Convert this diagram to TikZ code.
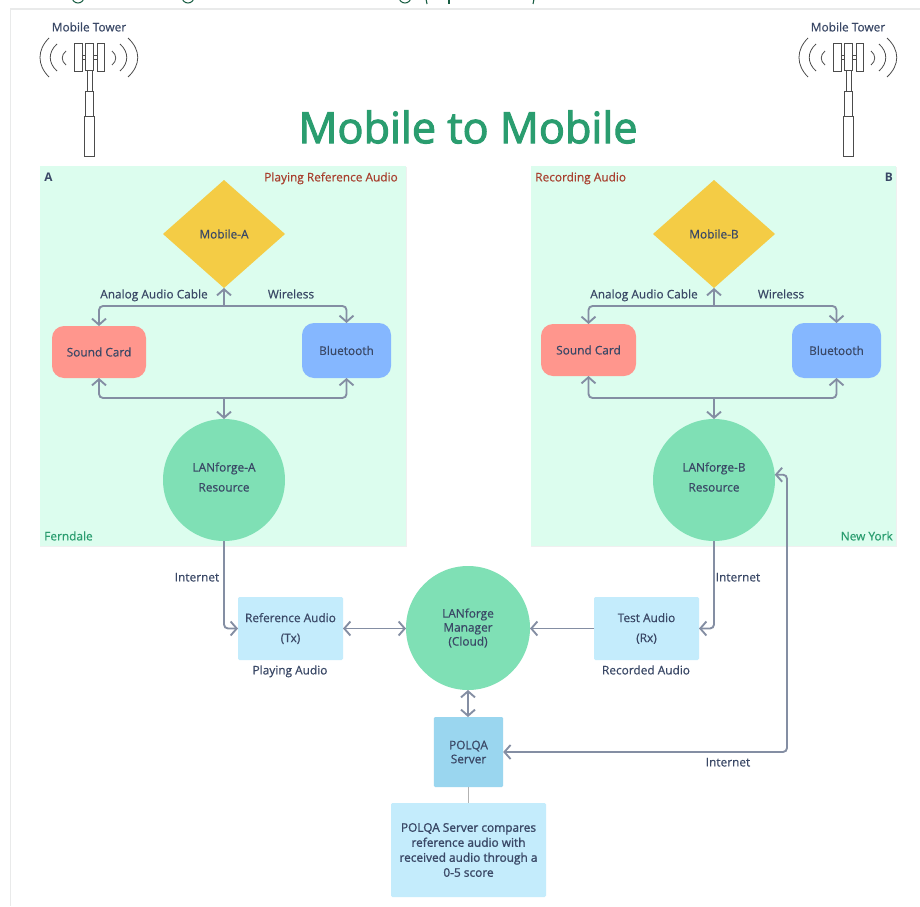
\documentclass[tikz,border=0pt]{standalone}
\usepackage{fontspec}
\setmainfont{Open Sans}
\newfontfamily\medfont{Open Sans}[FakeBold=0.6]
\newfontfamily\semifont{Open Sans}[FakeBold=1.3]
\newfontfamily\titlefont{Open Sans}[FakeBold=2.4]
\usetikzlibrary{arrows.meta,shapes.geometric}
\definecolor{ink}{HTML}{3A4866}
\definecolor{wire}{HTML}{848EA3}
\definecolor{panel}{HTML}{DCFDEE}
\definecolor{gold}{HTML}{F4CC45}
\definecolor{salmon}{HTML}{FF968D}
\definecolor{sky}{HTML}{85B7FF}
\definecolor{mint}{HTML}{7FE0B5}
\definecolor{pale}{HTML}{C4ECFC}
\definecolor{steel}{HTML}{9AD6EF}
\definecolor{leaf}{HTML}{2A9D6F}
\definecolor{brick}{HTML}{A8402F}
\definecolor{frame}{HTML}{E9EAEA}
\newcommand{\towerat}[1]{%
\begin{scope}[xshift=#1*0.75pt,draw=black!70,line width=0.6pt]
\draw[fill=white] (74,43) rectangle (82,71);
\draw[fill=white] (97,43) rectangle (104,71);
\draw (82,55) rectangle (85,59);
\draw (93,55) rectangle (97,59);
\draw[fill=white] (85,43) rectangle (93,70);
\draw (87,70) rectangle (92,91);
\draw (85,91) rectangle (93,116);
\draw (84,116) rectangle (94,156);
\draw (49,38) .. controls (37,50) and (37,65) .. (49,77);
\draw (57,44) .. controls (48,52) and (48,63) .. (57,71);
\draw (66,51) .. controls (61,55) and (61,61) .. (66,65);
\draw (128,38) .. controls (141,50) and (141,65) .. (128,77);
\draw (120,44) .. controls (129,52) and (129,63) .. (120,71);
\draw (112,51) .. controls (117,55) and (117,61) .. (112,65);
\end{scope}}
\tikzset{
 boxtxt/.style={font=\fontsize{8.9pt}{10.5pt}\selectfont\medfont,text=ink,inner sep=0pt,align=center},
 lbl/.style={boxtxt,text height=6.6pt,text depth=0pt},
 zone/.style={fill=panel,draw=none},
 dia/.style={diamond,fill=gold,aspect=1.13,minimum width=91.5pt,minimum height=81pt,inner sep=0pt,outer sep=0pt,boxtxt},
 round/.style={rounded corners=9pt,outer sep=0pt,boxtxt},
 disc/.style={circle,fill=mint,inner sep=0pt,outer sep=0pt,boxtxt},
 sq/.style={rounded corners=1pt,outer sep=0pt,boxtxt},
 conn/.style={draw=wire,line width=1.4pt,rounded corners=3pt},
 up/.style={conn,-{Straight Barb[length=4.6pt,width=10.5pt]}},
 both/.style={conn,{Straight Barb[length=4.6pt,width=10.5pt]}-{Straight Barb[length=4.6pt,width=10.5pt]}},
 frag/.style={draw=leaf!60!black,line width=0.8pt},
}
\begin{document}
\begin{tikzpicture}[x=0.75pt,y=-0.75pt]
\useasboundingbox (0,0) rectangle (920,906);
\fill[white] (0,0) rectangle (920,906);
% page frame and remnants of the cropped heading
\draw[frame,line width=0.9pt] (10.5,906) -- (10.5,9) -- (920,9);
\begin{scope}
\clip (0,0) rectangle (920,5);
\draw[frag] (72,-3) arc[start angle=180,end angle=0,x radius=6,y radius=6];
\draw[frag] (182,-3) arc[start angle=180,end angle=0,x radius=6,y radius=6];
\draw[frag] (399,-3) arc[start angle=180,end angle=0,x radius=6,y radius=6];
\draw[frag] (425,-6) -- (427,4);
\draw[frag] (449,-6) -- (449,4);
\draw[frag] (535,-6) -- (533,4);
\end{scope}
% panels
\fill[black!6] (40,167) rectangle (406.5,547);
\fill[black!6] (531,167) rectangle (896.5,547);
\path[zone] (40,166) rectangle (406,546);
\path[zone] (531,166) rectangle (896,546);
% title
\node[inner sep=0pt,text=leaf,font=\fontsize{32.4pt}{40pt}\selectfont\titlefont] (title) at (468,127) {Mobile to Mobile};
% towers
\towerat{0}
\towerat{759}
\node[lbl] (twA) at (89,27) {Mobile Tower};
\node[lbl] (twB) at (848,27) {Mobile Tower};
% panel captions
\node[lbl,font=\fontsize{8.9pt}{10pt}\selectfont\bfseries,anchor=west] (capA) at (44,177) {A};
\node[lbl,text=brick,anchor=east] (playA) at (398,177) {Playing Reference Audio};
\node[lbl,text=leaf,anchor=west] (ferndale) at (44,536) {Ferndale};
\node[lbl,font=\fontsize{8.9pt}{10pt}\selectfont\bfseries,anchor=east] (capB) at (893,177) {B};
\node[lbl,text=brick,anchor=west] (recB) at (535,177) {Recording Audio};
\node[lbl,text=leaf,anchor=east] (newyork) at (893,536) {New York};
% side A
\node[dia] (mobA) at (224,234) {Mobile-A};
\node[round,fill=salmon,minimum width=70.5pt,minimum height=39pt] (sndA) at (99,352) {Sound Card};
\node[round,fill=sky,minimum width=66.75pt,minimum height=41.25pt] (bluA) at (346.5,350.5) {Bluetooth};
\node[disc,minimum size=91.5pt] (lanA) at (224,480) {LANforge-A\\[4.5pt]Resource\rule[-4.5pt]{0pt}{0pt}};
% side B
\node[dia] (mobB) at (714,234) {Mobile-B};
\node[round,fill=salmon,minimum width=71.25pt,minimum height=39pt] (sndB) at (588.5,350) {Sound Card};
\node[round,fill=sky,minimum width=66.75pt,minimum height=41.25pt] (bluB) at (836.5,350.5) {Bluetooth};
\node[disc,minimum size=91.5pt] (lanB) at (714,480) {LANforge-B\\[4.5pt]Resource\rule[-4.5pt]{0pt}{0pt}};
% lower row
\node[sq,fill=pale,minimum width=78.75pt,minimum height=47.25pt] (refA) at (290.5,628.5) {Reference Audio\\[4.5pt](Tx)};
\node[sq,fill=pale,minimum width=78.75pt,minimum height=47.25pt] (tstA) at (646.5,628.5) {Test Audio\\[4.5pt](Rx)};
\node[disc,minimum size=93pt] (mgr) at (468,628) {LANforge\\Manager\\(Cloud)};
\node[sq,fill=steel,minimum width=52pt,minimum height=52.5pt] (polqa) at (468.5,752) {POLQA\\Server};
\node[sq,fill=pale,minimum width=116.25pt,minimum height=70.5pt,font=\fontsize{8.9pt}{10.5pt}\selectfont\semifont] (note) at (468.5,850) {POLQA Server compares\\[0.75pt]reference audio with\\[0.75pt]received audio through a\\[0.75pt]0-5 score};
% junctions
\coordinate (jA) at (224,306);
\coordinate (kA) at (224,398);
\coordinate (jB) at (714,306);
\coordinate (kB) at (714,398);
\coordinate (inet) at (787,752);
% connectors A
\draw[up] (jA) -- (mobA.south);
\draw[up] (jA) -| (sndA.north);
\draw[up] (jA) -| (bluA.north);
\draw[up] (kA) -- (lanA.north);
\draw[up] (kA) -| (sndA.south);
\draw[up] (kA) -| (bluA.south);
% connectors B
\draw[up] (jB) -- (mobB.south);
\draw[up] (jB) -| (sndB.north);
\draw[up] (jB) -| (bluB.north);
\draw[up] (kB) -- (lanB.north);
\draw[up] (kB) -| (sndB.south);
\draw[up] (kB) -| (bluB.south);
% connectors lower
\draw[up] (lanA.south) |- (refA.west);
\draw[up] (lanB.south) |- (tstA.east);
\draw[both] (refA.east) -- (mgr.west |- refA.east);
\draw[up] (tstA.west) -- (mgr.east |- tstA.west);
\draw[both] (mgr.south) -- (polqa.north -| mgr.south);
\draw[both] (lanB.5) -| (inet) -- (polqa.east);
\draw[draw=black!30,line width=0.9pt] (polqa.south) -- (note.north);
% edge labels
\node[lbl] (l1) at (154,294) {Analog Audio Cable};
\node[lbl] (l2) at (291,294) {Wireless};
\node[lbl] (l3) at (644,294) {Analog Audio Cable};
\node[lbl] (l4) at (781,294) {Wireless};
\node[lbl] (l5) at (197,577) {Internet};
\node[lbl] (l6) at (738,577) {Internet};
\node[lbl] (l7) at (728,762) {Internet};
\node[lbl] (l8) at (290,670) {Playing Audio};
\node[lbl] (l9) at (646,670) {Recorded Audio};
\end{tikzpicture}
\end{document}
